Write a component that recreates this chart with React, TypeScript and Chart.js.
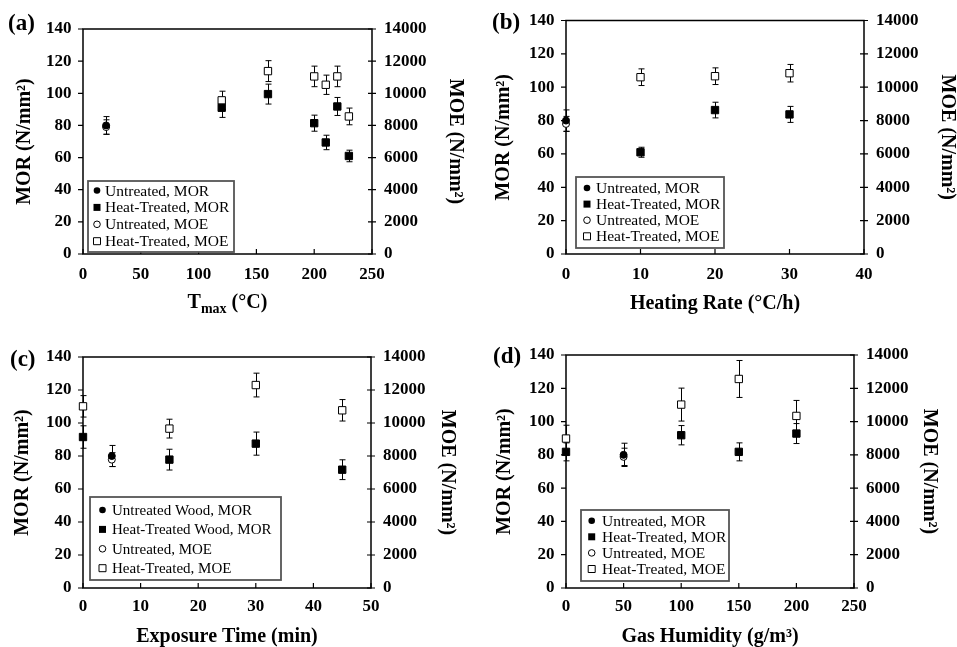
import React, { useEffect, useRef } from 'react';
import { Chart, registerables } from 'chart.js';
Chart.register(...registerables);

const FONT = "'Liberation Serif', 'Times New Roman', Times, serif";

// ---------- Panel (a): Tmax ----------
const A_UNT_X = [20];
const A_UNT_MOR = [80];
const A_UNT_MOR_ERR = [5.5];
const A_UNT_MOE = [7900];
const A_UNT_MOE_ERR = [450];
const A_HT_X = [120, 160, 200, 210, 220, 230];
const A_HT_MOR = [91, 99.5, 81.4, 69.4, 91.8, 61];
const A_HT_MOR_ERR = [6, 6.2, 5, 4.5, 5.6, 3.6];
const A_HT_MOE = [9560, 11380, 11050, 10530, 11050, 8560];
const A_HT_MOE_ERR = [570, 650, 640, 600, 640, 520];

// ---------- Panel (b): Heating rate ----------
const B_UNT_X = [0];
const B_UNT_MOR = [80];
const B_UNT_MOR_ERR = [6.4];
const B_UNT_MOE = [7800];
const B_UNT_MOE_ERR = [450];
const B_HT_X = [10, 20, 30];
const B_HT_MOR = [61, 86.3, 83.7];
const B_HT_MOR_ERR = [3, 4.7, 4.8];
const B_HT_MOE = [10600, 10660, 10840];
const B_HT_MOE_ERR = [500, 500, 525];

// ---------- Panel (c): Exposure time ----------
const C_UNT_X = [5];
const C_UNT_MOR = [80];
const C_UNT_MOR_ERR = [6.4];
const C_UNT_MOE = [7780];
const C_UNT_MOE_ERR = [420];
const C_HT_X = [0, 15, 30, 45];
const C_HT_MOR = [91.5, 77.8, 87.5, 71.7];
const C_HT_MOR_ERR = [6.8, 6.3, 7, 6];
const C_HT_MOE = [11010, 9660, 12300, 10770];
const C_HT_MOE_ERR = [650, 570, 720, 650];

// ---------- Panel (d): Gas humidity ----------
const D_UNT_X = [50];
const D_UNT_MOR = [80];
const D_UNT_MOR_ERR = [7];
const D_UNT_MOE = [7880];
const D_UNT_MOE_ERR = [520];
const D_HT_X = [0, 100, 150, 200];
const D_HT_MOR = [81.8, 91.8, 81.8, 92.8];
const D_HT_MOR_ERR = [5.4, 5.8, 5.4, 6];
const D_HT_MOE = [8980, 11020, 12560, 10340];
const D_HT_MOE_ERR = [800, 990, 1110, 930];

const LABELS_STD = ['Untreated, MOR', 'Heat-Treated, MOR', 'Untreated, MOE', 'Heat-Treated, MOE'];
const LABELS_C = ['Untreated Wood, MOR', 'Heat-Treated Wood, MOR', 'Untreated, MOE', 'Heat-Treated, MOE'];

const MOR_TITLE = 'MOR (N/mm\u00B2)';
const MOE_TITLE = 'MOE (N/mm\u00B2)';

function pts(xs: number[], ys: number[]) {
  return xs.map((x, i) => ({ x, y: ys[i] }));
}

function buildDatasets(
  ux: number[], uMor: number[], uMorE: number[], uMoe: number[], uMoeE: number[],
  hx: number[], hMor: number[], hMorE: number[], hMoe: number[], hMoeE: number[],
  labels: string[]
) {
  const common = { clip: false, pointBorderColor: '#000', pointBorderWidth: 1 };
  return [
    { ...common, label: labels[0], data: pts(ux, uMor), yAxisID: 'y', errorBars: uMorE, pointStyle: 'circle', pointRadius: 3.5, pointBackgroundColor: '#000', mk: 'fcircle' },
    { ...common, label: labels[1], data: pts(hx, hMor), yAxisID: 'y', errorBars: hMorE, pointStyle: 'rect', pointRadius: 5.2, pointBackgroundColor: '#000', mk: 'frect' },
    { ...common, label: labels[2], data: pts(ux, uMoe), yAxisID: 'y2', errorBars: uMoeE, pointStyle: 'circle', pointRadius: 3.5, pointBackgroundColor: '#fff', mk: 'ocircle' },
    { ...common, label: labels[3], data: pts(hx, hMoe), yAxisID: 'y2', errorBars: hMoeE, pointStyle: 'rect', pointRadius: 5.2, pointBackgroundColor: '#fff', mk: 'orect' },
  ];
}

const errorBarPlugin = {
  id: 'errorBars',
  beforeDatasetsDraw(chart: any) {
    const ctx = chart.ctx;
    ctx.save();
    ctx.strokeStyle = '#000';
    ctx.lineWidth = 1;
    chart.data.datasets.forEach((ds: any, i: number) => {
      const meta = chart.getDatasetMeta(i);
      const sc = chart.scales[ds.yAxisID];
      ds.data.forEach((p: any, j: number) => {
        const e = ds.errorBars ? ds.errorBars[j] : 0;
        if (!e) return;
        const el = meta.data[j];
        const x = Math.round(el.x) + 0.5;
        const y1 = sc.getPixelForValue(p.y + e);
        const y2 = sc.getPixelForValue(p.y - e);
        ctx.beginPath();
        ctx.moveTo(x, y1); ctx.lineTo(x, y2);
        ctx.moveTo(x - 3, y1); ctx.lineTo(x + 3, y1);
        ctx.moveTo(x - 3, y2); ctx.lineTo(x + 3, y2);
        ctx.stroke();
      });
    });
    ctx.restore();
  },
};

const framePlugin = {
  id: 'frame',
  beforeDatasetsDraw(chart: any) {
    const ctx = chart.ctx;
    const a = chart.chartArea;
    ctx.save();
    ctx.strokeStyle = '#000';
    ctx.lineWidth = 1.5;
    ctx.strokeRect(a.left, a.top, a.right - a.left, a.bottom - a.top);
    ctx.lineWidth = 1.2;
    ctx.beginPath();
    const y = chart.scales.y, y2 = chart.scales.y2, x = chart.scales.x;
    y.ticks.forEach((t: any) => { const py = y.getPixelForValue(t.value); ctx.moveTo(a.left - 5, py); ctx.lineTo(a.left, py); });
    y2.ticks.forEach((t: any) => { const py = y2.getPixelForValue(t.value); ctx.moveTo(a.right - 4, py); ctx.lineTo(a.right + 4, py); });
    x.ticks.forEach((t: any) => { const px = x.getPixelForValue(t.value); ctx.moveTo(px, a.bottom); ctx.lineTo(px, a.bottom - 5); });
    ctx.stroke();
    ctx.restore();
  },
};

function drawMarker(ctx: any, mk: string, x: number, y: number) {
  ctx.beginPath();
  if (mk === 'fcircle' || mk === 'ocircle') {
    ctx.arc(x, y, 3.3, 0, Math.PI * 2);
  } else {
    ctx.rect(x - 3.5, y - 3.5, 7, 7);
  }
  if (mk === 'fcircle' || mk === 'frect') { ctx.fillStyle = '#000'; ctx.fill(); }
  else { ctx.fillStyle = '#fff'; ctx.fill(); ctx.strokeStyle = '#000'; ctx.lineWidth = 1; ctx.stroke(); }
}

const legendPlugin = {
  id: 'boxLegend',
  afterDraw(chart: any, _args: any, opts: any) {
    if (!opts || !opts.w) return;
    const ctx = chart.ctx;
    const a = chart.chartArea;
    const bx = a.left + opts.dx;
    const by = a.bottom - opts.dy - opts.h;
    ctx.save();
    ctx.fillStyle = '#fff';
    ctx.fillRect(bx, by, opts.w, opts.h);
    ctx.strokeStyle = '#555';
    ctx.lineWidth = 1.8;
    ctx.strokeRect(bx, by, opts.w, opts.h);
    ctx.font = `${opts.fontSize}px ${FONT}`;
    ctx.textBaseline = 'middle';
    ctx.textAlign = 'left';
    chart.data.datasets.forEach((ds: any, i: number) => {
      const ry = by + opts.rowStart + i * opts.rowGap;
      drawMarker(ctx, ds.mk, bx + opts.mx, ry);
      ctx.fillStyle = '#000';
      ctx.fillText(ds.label, bx + opts.tx, ry + 1);
    });
    ctx.restore();
  },
};

const extraTextPlugin = {
  id: 'extraText',
  afterDraw(chart: any, _args: any, opts: any) {
    const ctx = chart.ctx;
    ctx.save();
    ctx.fillStyle = '#000';
    ctx.textBaseline = 'middle';
    ctx.textAlign = 'left';
    ctx.font = `bold 23px ${FONT}`;
    ctx.fillText(opts.panelLabel, opts.labelX, opts.labelY);
    if (opts.tmax) {
      const a = chart.chartArea;
      const big = `bold 20px ${FONT}`;
      const small = `bold 14px ${FONT}`;
      ctx.font = big; const wT = ctx.measureText('T').width;
      ctx.font = small; const wM = ctx.measureText('max').width;
      ctx.font = big; const wR = ctx.measureText(' (\u00B0C)').width;
      const total = wT + wM + wR;
      let x0 = (a.left + a.right) / 2 - total / 2;
      const base = opts.tmaxY;
      ctx.textBaseline = 'alphabetic';
      ctx.font = big; ctx.fillText('T', x0, base); x0 += wT;
      ctx.font = small; ctx.fillText('max', x0, base + 5); x0 += wM;
      ctx.font = big; ctx.fillText(' (\u00B0C)', x0, base);
    }
    ctx.restore();
  },
};

type PanelCfg = {
  id: string;
  left: number; top: number; width: number; height: number;
  plot: { l: number; r: number; t: number; b: number };
  xMax: number; xStep: number;
  xTitle: string; customTmax?: boolean; tmaxY?: number;
  xTickPad: number; xTitlePad: number; yTitlePad: number; y2TitlePad: number;
  labelX: number; labelY: number;
  legend: any;
  datasets: any[];
};

const PANELS: PanelCfg[] = [
  {
    id: '(a)', left: 0, top: 0, width: 478, height: 320,
    plot: { l: 83, r: 372, t: 29, b: 254 },
    xMax: 250, xStep: 50, xTitle: 'Tmax (\u00B0C)', customTmax: true, tmaxY: 308,
    xTickPad: 12, xTitlePad: 8, yTitlePad: 15, y2TitlePad: 13,
    labelX: 8, labelY: 24,
    legend: { dx: 5, dy: 2, w: 146, h: 71, rowStart: 9.5, rowGap: 16.9, mx: 9, tx: 17, fontSize: 15.5 },
    datasets: buildDatasets(A_UNT_X, A_UNT_MOR, A_UNT_MOR_ERR, A_UNT_MOE, A_UNT_MOE_ERR, A_HT_X, A_HT_MOR, A_HT_MOR_ERR, A_HT_MOE, A_HT_MOE_ERR, LABELS_STD),
  },
  {
    id: '(b)', left: 478, top: 0, width: 479, height: 320,
    plot: { l: 88, r: 386, t: 19, b: 254 },
    xMax: 40, xStep: 10, xTitle: 'Heating Rate (\u00B0C/h)',
    xTickPad: 12, xTitlePad: 6.5, yTitlePad: 15.5, y2TitlePad: 0,
    labelX: 14, labelY: 23,
    legend: { dx: 10, dy: 6, w: 148, h: 71, rowStart: 11, rowGap: 16.1, mx: 11, tx: 20, fontSize: 15.5 },
    datasets: buildDatasets(B_UNT_X, B_UNT_MOR, B_UNT_MOR_ERR, B_UNT_MOE, B_UNT_MOE_ERR, B_HT_X, B_HT_MOR, B_HT_MOR_ERR, B_HT_MOE, B_HT_MOE_ERR, LABELS_STD),
  },
  {
    id: '(c)', left: 0, top: 320, width: 478, height: 327,
    plot: { l: 83, r: 371, t: 37, b: 268 },
    xMax: 50, xStep: 10, xTitle: 'Exposure Time (min)',
    xTickPad: 10, xTitlePad: 0.5, yTitlePad: 13, y2TitlePad: 21,
    labelX: 10, labelY: 40,
    legend: { dx: 7, dy: 8, w: 191, h: 83, rowStart: 13, rowGap: 19.4, mx: 12.5, tx: 22, fontSize: 15 },
    datasets: buildDatasets(C_UNT_X, C_UNT_MOR, C_UNT_MOR_ERR, C_UNT_MOE, C_UNT_MOE_ERR, C_HT_X, C_HT_MOR, C_HT_MOR_ERR, C_HT_MOE, C_HT_MOE_ERR, LABELS_C),
  },
  {
    id: '(d)', left: 478, top: 320, width: 479, height: 327,
    plot: { l: 88, r: 376, t: 35, b: 268 },
    xMax: 250, xStep: 50, xTitle: 'Gas Humidity (g/m\u00B3)',
    xTickPad: 10, xTitlePad: 0.5, yTitlePad: 17, y2TitlePad: 18,
    labelX: 15, labelY: 37.5,
    legend: { dx: 15, dy: 7, w: 148, h: 71, rowStart: 10.7, rowGap: 16.1, mx: 10.7, tx: 21, fontSize: 15.5 },
    datasets: buildDatasets(D_UNT_X, D_UNT_MOR, D_UNT_MOR_ERR, D_UNT_MOE, D_UNT_MOE_ERR, D_HT_X, D_HT_MOR, D_HT_MOR_ERR, D_HT_MOE, D_HT_MOE_ERR, LABELS_STD),
  },
];

function Panel({ cfg }: { cfg: PanelCfg }) {
  const ref = useRef<HTMLCanvasElement>(null);
  useEffect(() => {
    if (!ref.current) return;
    const tickFont = { family: FONT, size: 17, weight: 'bold' as const, lineHeight: 1 };
    const titleFont = { family: FONT, size: 20, weight: 'bold' as const, lineHeight: 1 };
    const chart = new Chart(ref.current, {
      type: 'scatter',
      data: { datasets: cfg.datasets as any },
      options: {
        animation: false,
        responsive: false,
        events: [],
        clip: false,
        layout: { padding: { top: cfg.plot.t, left: 0, right: 0, bottom: 0 } },
        plugins: {
          legend: { display: false },
          tooltip: { enabled: false },
          boxLegend: cfg.legend,
          extraText: { panelLabel: cfg.id, labelX: cfg.labelX, labelY: cfg.labelY, tmax: !!cfg.customTmax, tmaxY: cfg.tmaxY },
        } as any,
        scales: {
          x: {
            type: 'linear', min: 0, max: cfg.xMax,
            ticks: { stepSize: cfg.xStep, color: '#000', font: tickFont, padding: cfg.xTickPad, maxRotation: 0, callback: (v: any) => String(v) },
            grid: { display: false, drawTicks: false },
            border: { display: false },
            title: { display: !cfg.customTmax, text: cfg.xTitle, color: '#000', font: titleFont, padding: { top: 0, bottom: cfg.xTitlePad } },
            afterFit: (s: any) => { s.height = cfg.height - cfg.plot.b; },
          },
          y: {
            type: 'linear', position: 'left', min: 0, max: 140,
            ticks: { stepSize: 20, color: '#000', font: tickFont, padding: 11.5, callback: (v: any) => String(v) },
            grid: { display: false, drawTicks: false },
            border: { display: false },
            title: { display: true, text: MOR_TITLE, color: '#000', font: titleFont, padding: { top: cfg.yTitlePad, bottom: 0 } },
            afterFit: (s: any) => { s.width = cfg.plot.l; },
          },
          y2: {
            type: 'linear', position: 'right', min: 0, max: 14000,
            ticks: { stepSize: 2000, color: '#000', font: tickFont, padding: 12, callback: (v: any) => String(v) },
            grid: { display: false, drawTicks: false },
            border: { display: false },
            title: { display: true, text: MOE_TITLE, color: '#000', font: titleFont, padding: { top: cfg.y2TitlePad, bottom: 0 } },
            afterFit: (s: any) => { s.width = cfg.width - cfg.plot.r; },
          },
        } as any,
      } as any,
      plugins: [framePlugin, errorBarPlugin, legendPlugin, extraTextPlugin],
    });
    return () => chart.destroy();
  }, [cfg]);
  return (
    <div style={{ position: 'absolute', left: cfg.left, top: cfg.top, width: cfg.width, height: cfg.height }}>
      <canvas ref={ref} width={cfg.width} height={cfg.height} style={{ display: 'block' }} />
    </div>
  );
}

export default function App() {
  return (
    <div style={{ position: 'absolute', left: 0, top: 0, width: 957, height: 647, background: '#fff' }}>
      {PANELS.map((p) => <Panel key={p.id} cfg={p} />)}
    </div>
  );
}
